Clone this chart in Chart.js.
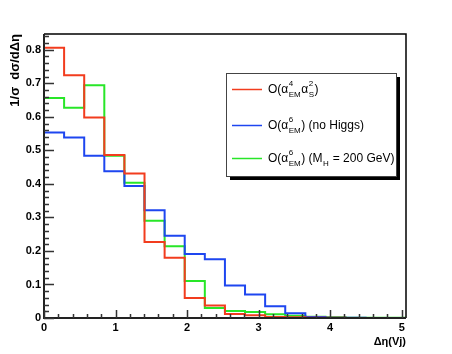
<!DOCTYPE html>
<html>
<head>
<meta charset="utf-8">
<script src="https://cdn.jsdelivr.net/npm/chart.js@4"></script>
<style>
  html, body { margin: 0; padding: 0; background: #fff; }
  #wrap { width: 452px; height: 354px; }
</style>
</head>
<body>
<div id="wrap"><canvas id="myChart" width="452" height="354"></canvas></div>
<script>
// bin edges of the histogram (18 bins)
let binEdges = [0, 0.281, 0.562, 0.843, 1.124, 1.405, 1.686, 1.967, 2.248, 2.529, 2.81, 3.091, 3.372, 3.653, 3.934, 4.215, 4.496, 4.777, 5.06];

let qcdValues   = [0.806, 0.724, 0.598, 0.486, 0.431, 0.227, 0.180, 0.060, 0.037, 0.012, 0.008, 0.003, 0.002, 0.001, 0.001, 0.0, 0.0, 0.0];
let noHiggs     = [0.553, 0.538, 0.484, 0.438, 0.394, 0.321, 0.245, 0.191, 0.175, 0.097, 0.070, 0.035, 0.014, 0.003, 0.001, 0.001, 0.0, 0.0];
let higgs200    = [0.656, 0.627, 0.694, 0.484, 0.403, 0.290, 0.214, 0.110, 0.030, 0.021, 0.018, 0.011, 0.007, 0.004, 0.002, 0.001, 0.001, 0.001];

let seriesColors = ["#f23c1e", "#1e46f0", "#28e628"];

let yTickLabels = [0, 0.1, 0.2, 0.3, 0.4, 0.5, 0.6, 0.7, 0.8];
let xTickLabels = [0, 1, 2, 3, 4, 5];

// step points: one per bin edge, last edge repeats last bin value
function steps(vals) {
    var pts = [];
    for (var i = 0; i < vals.length; i++) {
        pts.push({x: binEdges[i], y: vals[i]});
    }
    pts.push({x: binEdges[binEdges.length - 1], y: vals[vals.length - 1]});
    return pts;
}

const FONT = "'Liberation Sans', Arial, Helvetica, sans-serif";

// ROOT style frame, inward ticks, titles and legend
const rootFrame = {
    id: 'rootFrame',
    afterDraw(chart) {
        const ctx = chart.ctx;
        const a = chart.chartArea;
        const xs = chart.scales.x, ys = chart.scales.y;
        ctx.save();
        ctx.strokeStyle = '#000';

        // frame: top + right thin, left + bottom thick
        ctx.lineWidth = 1.5;
        ctx.beginPath();
        ctx.moveTo(a.left, a.top); ctx.lineTo(a.right, a.top); ctx.lineTo(a.right, a.bottom);
        ctx.stroke();
        ctx.lineWidth = 2;
        ctx.strokeStyle = '#222';
        ctx.beginPath();
        ctx.moveTo(a.left, a.top); ctx.lineTo(a.left, a.bottom); ctx.lineTo(a.right, a.bottom);
        ctx.stroke();

        // y ticks (major 0.1, minor 0.02), pointing right
        ctx.lineWidth = 1.5;
        ctx.strokeStyle = '#333';
        ctx.beginPath();
        for (var k = 0; k <= 42; k++) {
            var v = k * 0.02;
            if (v > ys.max) break;
            var py = Math.round(ys.getPixelForValue(v)) + 0.5;
            var len = (k % 5 === 0) ? 10 : 5;
            ctx.moveTo(a.left, py); ctx.lineTo(a.left + len, py);
        }
        // x ticks (major 1, minor 0.2), pointing up
        for (var j = 0; j <= 25; j++) {
            var u = j * 0.2;
            if (u > xs.max) break;
            var px = Math.round(xs.getPixelForValue(u)) + 0.5;
            var l2 = (j % 5 === 0) ? 8 : 4;
            ctx.moveTo(px, a.bottom); ctx.lineTo(px, a.bottom - l2);
        }
        ctx.stroke();

        // y title
        ctx.fillStyle = '#000';
        ctx.save();
        ctx.translate(15, a.top);
        ctx.rotate(-Math.PI / 2);
        ctx.textAlign = 'right';
        ctx.textBaseline = 'middle';
        ctx.font = "bold 13px " + FONT;
        ctx.fillText('1/\u03C3  d\u03C3/d\u0394\u03B7', 0, 0);
        ctx.restore();

        // x title
        ctx.textAlign = 'right';
        ctx.textBaseline = 'middle';
        ctx.font = "bold 11px " + FONT;
        ctx.fillText('\u0394\u03B7(Vj)', a.right, 342);

        // legend box with shadow
        var bx = 226, by = 73, bw = 170, bh = 103;
        ctx.fillStyle = '#000';
        ctx.fillRect(bx + 4, by + 4, bw, bh);
        ctx.fillStyle = '#fff';
        ctx.fillRect(bx, by, bw, bh);
        ctx.lineWidth = 1;
        ctx.strokeStyle = '#444';
        ctx.strokeRect(bx + 0.5, by + 0.5, bw, bh);

        var rowsY = [89, 125, 158];
        var sets = chart.data.datasets;
        for (var r = 0; r < sets.length; r++) {
            ctx.strokeStyle = sets[r].borderColor;
            ctx.lineWidth = 1.5;
            ctx.beginPath();
            ctx.moveTo(232, rowsY[r] + 0.5); ctx.lineTo(262, rowsY[r] + 0.5);
            ctx.stroke();
            drawRich(ctx, sets[r].rich, 268, rowsY[r]);
        }
        ctx.restore();
    }
};

// text with super/subscript stacks: items are strings or [sup, sub]
function drawRich(ctx, parts, x, y) {
    ctx.fillStyle = '#000';
    ctx.textAlign = 'left';
    ctx.textBaseline = 'middle';
    for (var i = 0; i < parts.length; i++) {
        var p = parts[i];
        if (typeof p === 'string') {
            ctx.font = "12px " + FONT;
            ctx.fillText(p, x, y + 1);
            x += ctx.measureText(p).width;
        } else {
            ctx.font = "8px " + FONT;
            var w1 = p[0] ? ctx.measureText(p[0]).width : 0;
            var w2 = p[1] ? ctx.measureText(p[1]).width : 0;
            if (p[0]) ctx.fillText(p[0], x + 0.5, y - 5);
            if (p[1]) ctx.fillText(p[1], x + 0.5, y + 6);
            x += Math.max(w1, w2) + 1;
        }
    }
}

new Chart("myChart", {
    type: "line",
    data: {
        datasets: [{
            label: "qcd",
            rich: ["O(\u03B1", ["4", "EM"], "\u03B1", ["2", "S"], ")"],
            data: steps(qcdValues),
            borderColor: seriesColors[0],
            borderWidth: 2,
            stepped: 'before',
            pointRadius: 0,
            fill: false
        }, {
            label: "nohiggs",
            rich: ["O(\u03B1", ["6", "EM"], ") (no Higgs)"],
            data: steps(noHiggs),
            borderColor: seriesColors[1],
            borderWidth: 2,
            stepped: 'before',
            pointRadius: 0,
            fill: false
        }, {
            label: "higgs",
            rich: ["O(\u03B1", ["6", "EM"], ") (M", [null, "H"], " = 200 GeV)"],
            data: steps(higgs200),
            borderColor: seriesColors[2],
            borderWidth: 2,
            stepped: 'before',
            pointRadius: 0,
            fill: false
        }]
    },
    options: {
        responsive: false,
        animation: false,
        clip: false,
        layout: {padding: {top: 34, right: 46, left: 0, bottom: 0}},
        plugins: {legend: {display: false}, tooltip: {enabled: false}},
        scales: {
            x: {
                type: 'linear',
                min: 0,
                max: 5.06,
                grid: {display: false, drawTicks: false},
                border: {display: false},
                afterBuildTicks: function (s) { s.ticks = xTickLabels.map(v => ({value: v})); },
                afterFit: function (s) { s.height = 36; },
                ticks: {
                    color: '#000',
                    padding: 3,
                    maxRotation: 0,
                    autoSkip: false,
                    font: {family: FONT, size: 11, weight: 'bold'},
                    callback: v => String(v)
                }
            },
            y: {
                min: 0,
                max: 0.847,
                grid: {display: false, drawTicks: false},
                border: {display: false},
                afterBuildTicks: function (s) { s.ticks = yTickLabels.map(v => ({value: v})); },
                afterFit: function (s) { s.width = 44; },
                ticks: {
                    color: '#000',
                    padding: 3,
                    autoSkip: false,
                    font: {family: FONT, size: 11, weight: 'bold'},
                    callback: v => (v === 0 ? '0' : v.toFixed(1))
                }
            }
        }
    },
    plugins: [rootFrame]
});
</script>
</body>
</html>
